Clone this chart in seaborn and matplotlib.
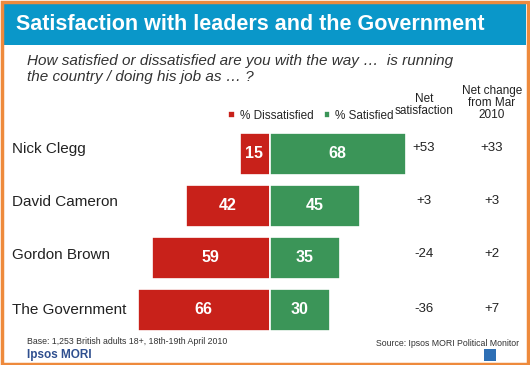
import matplotlib
matplotlib.use("Agg")
import matplotlib.pyplot as plt
import seaborn as sns
import pandas as pd
from matplotlib.patches import Rectangle

# data
leaders = ["Nick Clegg", "David Cameron", "Gordon Brown", "The Government"]
dissatisfied = [15, 42, 59, 66]
satisfied = [68, 45, 35, 30]
net_sat = ["+53", "+3", "-24", "-36"]
net_change = ["+33", "+3", "+2", "+7"]

red = "#C8211A"
green = "#3B9558"
blue = "#0A97C9"
orange = "#EE8A3C"

sns.set_theme(style="white")
plt.rcParams["font.family"] = ["Liberation Sans", "DejaVu Sans"]

df = pd.DataFrame({
    "leader": leaders * 2,
    "value": [-v for v in dissatisfied] + satisfied,
    "measure": ["% Dissatisfied"] * 4 + ["% Satisfied"] * 4,
})

W, H = 530, 365
fig = plt.figure(figsize=(W / 100, H / 100), dpi=100)
fig.patch.set_facecolor("white")

# axes placed so that 0 sits at x=269.5px and 1 unit = 2px
left_px, right_px = 130, 420
x0 = 269.5
ax = fig.add_axes([left_px / W, 29 / H, (right_px - left_px) / W, 208 / H])
sns.barplot(data=df, x="value", y="leader", hue="measure", orient="h",
            palette=[red, green], dodge=False, width=0.8, saturation=1,
            edgecolor="white", linewidth=1.2, ax=ax)
ax.set_xlim((left_px - x0) / 2, (right_px - x0) / 2)
ax.set_ylim(3.5, -0.5)
ax.axis("off")

for i in range(len(leaders)):
    ax.text(-dissatisfied[i] / 2, i, str(dissatisfied[i]), ha="center", va="center",
            color="white", fontsize=11.5, fontweight="bold")
    ax.text(satisfied[i] / 2, i, str(satisfied[i]), ha="center", va="center",
            color="white", fontsize=11.5, fontweight="bold")

# legend
handles, labels = ax.get_legend_handles_labels()
ax.legend(handles, labels, ncol=2, frameon=False, fontsize=8.5,
          handlelength=0.55, handleheight=0.55, handletextpad=0.4,
          columnspacing=0.9, loc="center",
          bbox_to_anchor=(311 / W, (H - 116) / H), bbox_transform=fig.transFigure)

# row labels and net columns
row_y = [149, 202, 255, 310]
for i, name in enumerate(leaders):
    fig.text(12 / W, (H - row_y[i]) / H, name, ha="left", va="center",
             fontsize=11, color="#222222")
    fig.text(424 / W, (H - row_y[i] + 1) / H, net_sat[i], ha="center", va="center",
             fontsize=9.5, color="#222222")
    fig.text(492 / W, (H - row_y[i] + 1) / H, net_change[i], ha="center", va="center",
             fontsize=9.5, color="#222222")

fig.text(424 / W, (H - 105) / H, "Net\nsatisfaction", ha="center", va="center",
         fontsize=8.5, color="#222222", linespacing=1.0)
fig.text(492 / W, (H - 103) / H, "Net change\nfrom Mar\n2010", ha="center", va="center",
         fontsize=8.5, color="#222222", linespacing=1.0)

# header band
fig.patches.append(Rectangle((4 / W, (H - 45) / H), 522 / W, 41 / H,
                             transform=fig.transFigure, facecolor=blue,
                             edgecolor="none", zorder=0))
fig.text(16 / W, (H - 24) / H, "Satisfaction with leaders and the Government",
         ha="left", va="center", fontsize=15.5, fontweight="bold", color="white")
fig.text(27 / W, (H - 69) / H,
         "How satisfied or dissatisfied are you with the way \u2026  is running\nthe country / doing his job as \u2026 ?",
         ha="left", va="center", fontsize=11, style="italic", color="#333333",
         linespacing=1.2)

# footer
fig.text(27 / W, (H - 341) / H, "Base: 1,253 British adults 18+, 18th-19th April 2010",
         ha="left", va="center", fontsize=6.3, color="#333333")
fig.text(27 / W, (H - 355) / H, "Ipsos MORI", ha="left", va="center",
         fontsize=8.5, fontweight="bold", color="#2F4F8F")
fig.text(519 / W, (H - 344) / H, "Source: Ipsos MORI Political Monitor",
         ha="right", va="center", fontsize=6.3, color="#333333")
fig.patches.append(Rectangle((484 / W, 4 / H), 12 / W, 12 / H,
                             transform=fig.transFigure, facecolor="#2D6FB5",
                             edgecolor="none"))

# orange frame
fig.patches.append(Rectangle((1.5 / W, 1.5 / H), (W - 4) / W, (H - 3) / H,
                             transform=fig.transFigure, facecolor="none",
                             edgecolor=orange, linewidth=2.5))

fig.savefig("out.png", dpi=100)
